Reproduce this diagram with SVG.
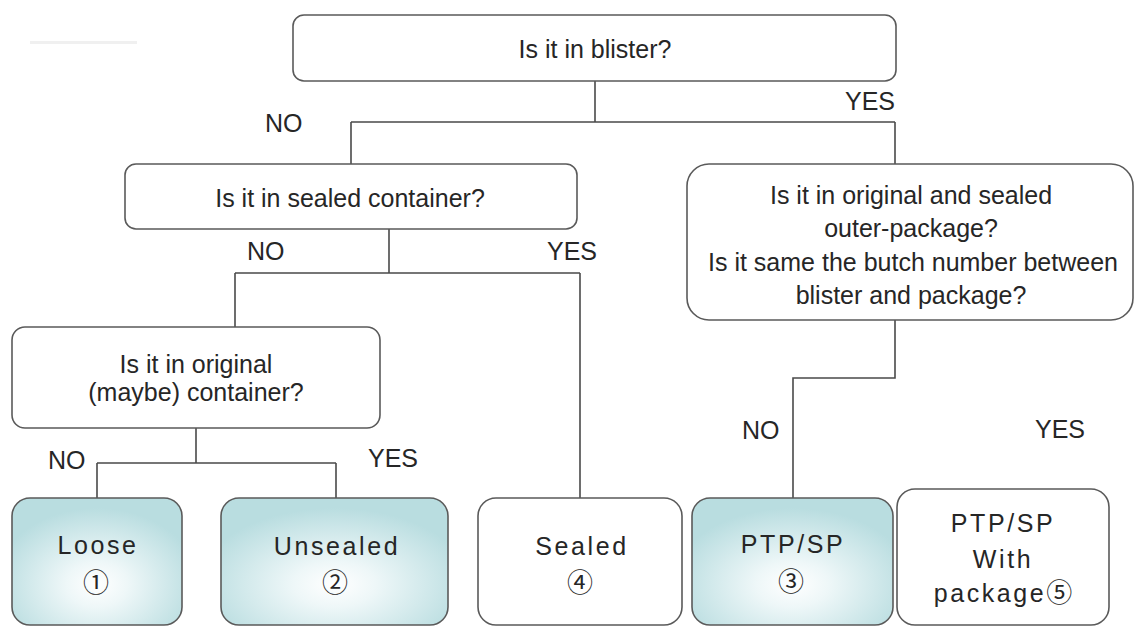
<svg xmlns="http://www.w3.org/2000/svg" width="1134" height="626" viewBox="0 0 1134 626">
<style>
.box{fill:#fff;stroke:#5a5a5a;stroke-width:1.6}
.leaf{stroke:#5a5a5a;stroke-width:1.6;fill:url(#teal)}
.conn{fill:none;stroke:#4a4a4a;stroke-width:1.6}
.t{font-family:"Liberation Sans",Arial,sans-serif;font-size:25px;fill:#262626;text-anchor:middle}
.lbl{font-family:"Liberation Sans",Arial,sans-serif;font-size:25px;fill:#262626}
.sp{letter-spacing:2.6px}
.c{font-family:"Noto Sans CJK JP","DejaVu Sans",sans-serif;font-size:26px;fill:#262626;text-anchor:middle}
</style>
<defs>
<radialGradient id="teal" cx="0.5" cy="0.68" r="0.6">
<stop offset="0" stop-color="#ffffff"/>
<stop offset="0.3" stop-color="#eef7f8"/>
<stop offset="1" stop-color="#b9dde0"/>
</radialGradient>
</defs>
<rect width="1134" height="626" fill="#fff"/>
<rect x="30" y="41" width="107" height="3" fill="#f0f0f0"/>

<g id="connectors">
<path class="conn" d="M595 81 V122 M351 122 H895 M351 122 V164 M895 122 V164"/>
<path class="conn" d="M389 229 V273 M235 273 H580 M235 273 V327 M580 273 V498"/>
<path class="conn" d="M196 428 V463 M97 463 H336 M97 463 V498 M336 463 V498"/>
<path class="conn" d="M895 320 V378 H793 V498"/>
</g>

<g id="labels">
<text class="lbl" x="265" y="132">NO</text>
<text class="lbl" x="895" y="110" text-anchor="end">YES</text>
<text class="lbl" x="247" y="260">NO</text>
<text class="lbl" x="547" y="260">YES</text>
<text class="lbl" x="48" y="469">NO</text>
<text class="lbl" x="368" y="467">YES</text>
<text class="lbl" x="742" y="439">NO</text>
<text class="lbl" x="1035" y="438">YES</text>
</g>

<g id="n-blister">
<rect class="box" x="293" y="15" width="603" height="66" rx="11"/>
<text class="t" x="595" y="58">Is it in blister?</text>
</g>

<g id="n-sealed-container">
<rect class="box" x="125" y="164" width="452" height="65" rx="11"/>
<text class="t" x="350" y="207">Is it in sealed container?</text>
</g>

<g id="n-outer-package">
<rect class="box" x="687" y="164" width="446" height="156" rx="22"/>
<text class="t" x="911" y="204" fill="#333">Is it in original and sealed</text>
<text class="t" x="911" y="237" fill="#333">outer-package?</text>
<text class="t" x="913" y="271" fill="#333">Is it same the butch number between</text>
<text class="t" x="911" y="304" fill="#333">blister and package?</text>
</g>

<g id="n-original">
<rect class="box" x="12" y="327" width="368" height="101" rx="13"/>
<text class="t" x="196" y="373">Is it in original</text>
<text class="t" x="196" y="401">(maybe) container?</text>
</g>

<g id="n-loose">
<rect class="leaf" x="12" y="498" width="170" height="127" rx="18"/>
<text class="t sp" x="98" y="554">Loose</text>
<text class="c" x="96" y="592">①</text>
</g>

<g id="n-unsealed">
<rect class="leaf" x="221" y="498" width="227" height="127" rx="18"/>
<text class="t sp" x="337" y="555">Unsealed</text>
<text class="c" x="335" y="592">②</text>
</g>

<g id="n-sealed">
<rect class="box" x="478" y="498" width="204" height="127" rx="18"/>
<text class="t sp" x="582" y="555">Sealed</text>
<text class="c" x="580" y="592">④</text>
</g>

<g id="n-ptp">
<rect class="leaf" x="692" y="498" width="201" height="127" rx="18"/>
<text class="t sp" x="793" y="553">PTP/SP</text>
<text class="c" x="791" y="591">③</text>
</g>

<g id="n-ptp-package">
<rect class="box" x="897" y="489" width="212" height="136" rx="18"/>
<text class="t sp" x="1003" y="532">PTP/SP</text>
<text class="t sp" x="1003" y="568">With</text>
<text class="t sp" x="1003" y="602">package<tspan class="c" style="letter-spacing:0">⑤</tspan></text>
</g>
</svg>
